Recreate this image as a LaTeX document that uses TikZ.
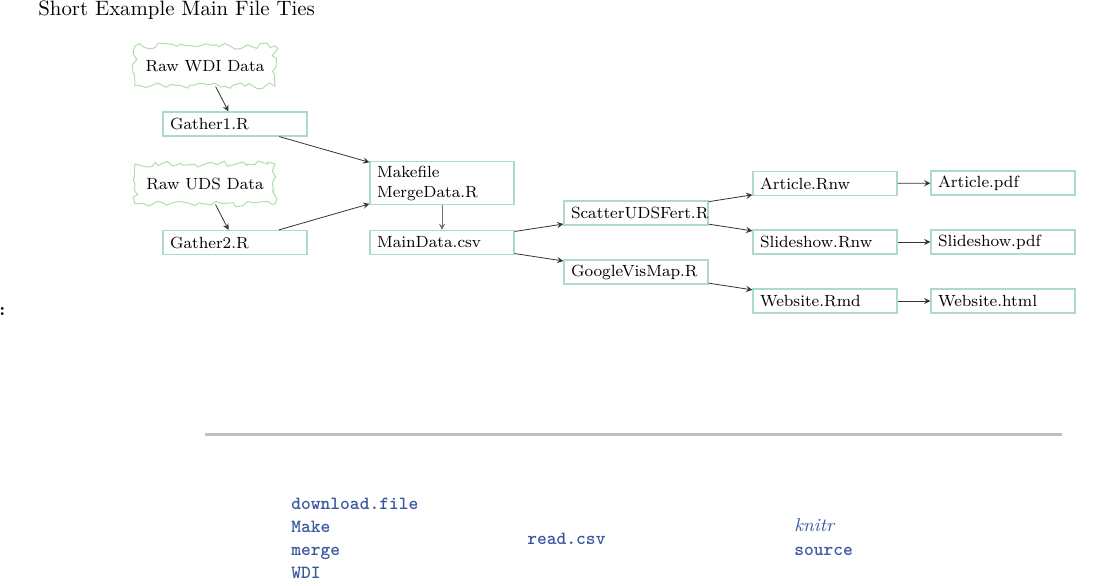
\documentclass[tikz,border=0pt]{standalone}
\usepackage{fontspec}
\usetikzlibrary{decorations.pathmorphing,arrows.meta}
\definecolor{boxline}{RGB}{172,218,210}
\definecolor{cloudline}{RGB}{178,220,172}
\definecolor{codeblue}{RGB}{58,88,160}
\definecolor{rule}{RGB}{192,192,192}
\begin{document}
\begin{tikzpicture}[x=0.5pt,y=-0.5pt,
  filebox/.style={draw=boxline, line width=0.6pt, minimum width=72pt, minimum height=12pt,
    text width=65pt, align=left, inner xsep=3.5pt, inner ysep=2pt,
    font=\fontsize{8.1}{10}\selectfont},
  cloudbox/.style={draw=cloudline, line width=0.5pt, minimum width=70pt, minimum height=20pt,
    font=\fontsize{8.1}{10}\selectfont, decorate,
    decoration={random steps, segment length=2.5pt, amplitude=1.5pt}},
  link/.style={->, >=stealth, line width=0.4pt, draw=black!80},
  code/.style={anchor=base west, inner sep=0pt, text=codeblue, font=\fontsize{9.3}{11}\selectfont\ttfamily\bfseries}
]
\pgfmathsetseed{7}
\useasboundingbox (0,0) rectangle (1107,585);
\node[anchor=base west, inner sep=0pt, font=\fontsize{10.4}{12}\selectfont] (title) at (38,15) {Short Example Main File Ties};
\node[anchor=west, inner sep=0pt, font=\bfseries\fontsize{9}{11}\selectfont] (colon) at (-1,311) {:};

\node[cloudbox] (wdi) at (205,66) {Raw WDI Data};
\node[cloudbox] (uds) at (205,184) {Raw UDS Data};
\node[filebox] (g1) at (235,124) {Gather1.R};
\node[filebox] (g2) at (235,242.5) {Gather2.R};
\node[filebox] (mk) at (442,183) {Makefile\\MergeData.R};
\node[filebox] (md) at (442,242.5) {MainData.csv};
\node[filebox] (sc) at (636,213) {ScatterUDSFert.R};
\node[filebox] (gv) at (636,272) {GoogleVisMap.R};
\node[filebox] (ar) at (825,183.5) {Article.Rnw};
\node[filebox] (sr) at (825,242) {Slideshow.Rnw};
\node[filebox] (wr) at (825,301) {Website.Rmd};
\node[filebox] (ap) at (1003,183) {Article.pdf};
\node[filebox] (sp) at (1003,242) {Slideshow.pdf};
\node[filebox] (wh) at (1003,301) {Website.html};

\draw[link] (wdi) -- (g1);
\draw[link] (uds) -- (g2);
\draw[link] (g1) -- (mk);
\draw[link] (g2) -- (mk);
\draw[link, draw=black!55] (mk) -- (md);
\draw[link] (md) -- (sc);
\draw[link] (md) -- (gv);
\draw[link] (sc) -- (ar);
\draw[link] (sc) -- (sr);
\draw[link] (gv) -- (wr);
\draw[link] (ar) -- (ap);
\draw[link] (sr) -- (sp);
\draw[link] (wr) -- (wh);

\coordinate (r1) at (205,434);
\coordinate (r2) at (1062,434);
\draw[rule, line width=1.5pt] (r1) -- (r2);

\node[code] (c1) at (291,509) {download.file};
\node[code] (c2) at (291,532) {Make};
\node[code] (c3) at (291,555) {merge};
\node[code] (c4) at (291,578) {WDI};
\node[code] (c5) at (527,544) {read.csv};
\node[code, font=\fontsize{9.3}{11}\selectfont\itshape] (c6) at (794,531) {knitr};
\node[code] (c7) at (794,555) {source};
\end{tikzpicture}
\end{document}
